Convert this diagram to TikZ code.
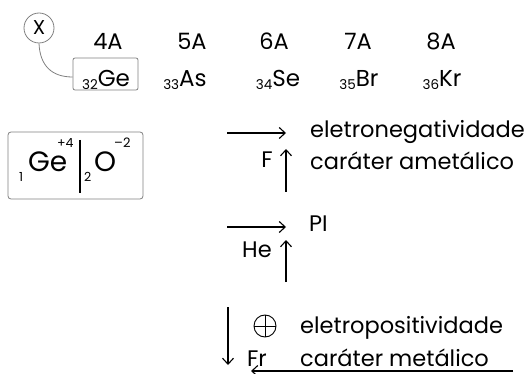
\documentclass[tikz,border=0pt]{standalone}
\usepackage{fontspec}
\setmainfont{Poppins}
\usetikzlibrary{arrows.meta}
\newcommand{\elsym}[2]{\raisebox{-3pt}{\fontsize{13.5}{14}\selectfont #1}\fontsize{23}{25}\selectfont #2}
\begin{document}
\begin{tikzpicture}[x=1pt,y=-1pt,
  lbl/.style={inner sep=0pt,font=\fontsize{22.5}{25}\selectfont},
  arr/.style={draw=black,line width=1.1pt,-{Straight Barb[length=6pt,width=11pt,line width=1.1pt]}},
  grayline/.style={draw=gray,line width=0.8pt},
  oplus/.style={circle,draw=black,line width=0.9pt,minimum size=22pt,inner sep=0pt,
    path picture={\draw[line width=0.9pt] (path picture bounding box.north) -- (path picture bounding box.south)
      (path picture bounding box.west) -- (path picture bounding box.east);}}]
\useasboundingbox (0,0) rectangle (530,374);
% top row
\node[draw=gray,circle,line width=0.8pt,inner sep=0pt,minimum size=30pt,font=\fontsize{20}{22}\selectfont] (x) at (39,28) {X};
\node[lbl,anchor=base] (g4) at (108,50) {4A};
\node[lbl,anchor=base] (g5) at (192,50) {5A};
\node[lbl,anchor=base] (g6) at (274,50) {6A};
\node[lbl,anchor=base] (g7) at (358,50) {7A};
\node[lbl,anchor=base] (g8) at (441,50) {8A};
\node[draw=gray,rounded corners=2pt,line width=0.8pt,minimum width=65pt,minimum height=32pt,inner sep=0pt] (ge) at (105.5,74) {};
\node[inner sep=0pt,anchor=base] (get) at (106,87) {\elsym{32}{Ge}};
\node[inner sep=0pt,anchor=base] (as) at (185,87) {\elsym{33}{As}};
\node[inner sep=0pt,anchor=base] (se) at (278,87) {\elsym{34}{Se}};
\node[inner sep=0pt,anchor=base] (br) at (359,87) {\elsym{35}{Br}};
\node[inner sep=0pt,anchor=base] (kr) at (442,87) {\elsym{36}{Kr}};
\draw[grayline] (x.south) .. controls (40,66) and (52,77) .. (ge.west |- 0,77);
% GeO2 box
\node[draw=gray,rounded corners=3pt,line width=0.8pt,minimum width=135pt,minimum height=67pt] (box) at (75.5,165.5) {};
\node[inner sep=0pt,anchor=base west,font=\fontsize{12.5}{13}\selectfont] (s1) at (19,182) {1};
\node[inner sep=0pt,anchor=base west,font=\fontsize{28}{30}\selectfont] (gelab) at (28,172) {Ge};
\node[inner sep=0pt,anchor=base west,font=\fontsize{12.5}{14}\selectfont] (ch1) at (57,148) {+4};
\node[inner sep=0pt,anchor=base west,font=\fontsize{12.5}{13}\selectfont] (s2) at (84,182) {2};
\node[inner sep=0pt,anchor=base west,font=\fontsize{28}{30}\selectfont] (olab) at (94,172) {O};
\node[inner sep=0pt,anchor=base west,font=\fontsize{13}{14}\selectfont] (ch2) at (114,148) {\textendash2};
\coordinate (vt) at (80,140);
\coordinate (vb) at (80,193);
\draw[line width=1.1pt] (vt) -- (vb);
% arrows block
\coordinate (a1s) at (227,133);
\coordinate (a1e) at (286,133);
\draw[arr] (a1s) -- (a1e);
\node[lbl,anchor=base west] (en) at (310,138) {eletronegatividade};
\node[lbl,anchor=base west] (ca) at (310,170) {caráter ametálico};
\node[lbl,anchor=base] (f) at (267,168) {F};
\coordinate (u1s) at (286,192);
\coordinate (u1e) at (286,149);
\draw[arr] (u1s) -- (u1e);
\coordinate (a2s) at (227,227);
\coordinate (a2e) at (286,227);
\draw[arr] (a2s) -- (a2e);
\node[lbl,anchor=base west] (pi) at (309,232) {PI};
\node[lbl,anchor=base] (he) at (257,258) {He};
\coordinate (u2s) at (286,282);
\coordinate (u2e) at (286,240);
\draw[arr] (u2s) -- (u2e);
\coordinate (d1s) at (228,307);
\coordinate (d1e) at (228,365);
\draw[arr] (d1s) -- (d1e);
\node[oplus] (plus) at (265,326) {};
\node[lbl,anchor=base west] (ep) at (300,333) {eletropositividade};
\node[lbl,anchor=base] (fr) at (257,366) {Fr};
\node[lbl,anchor=base west] (cm) at (300,366) {caráter metálico};
\coordinate (l1s) at (513,371);
\coordinate (l1e) at (251,371);
\draw[arr] (l1s) -- (l1e);
\end{tikzpicture}
\end{document}
